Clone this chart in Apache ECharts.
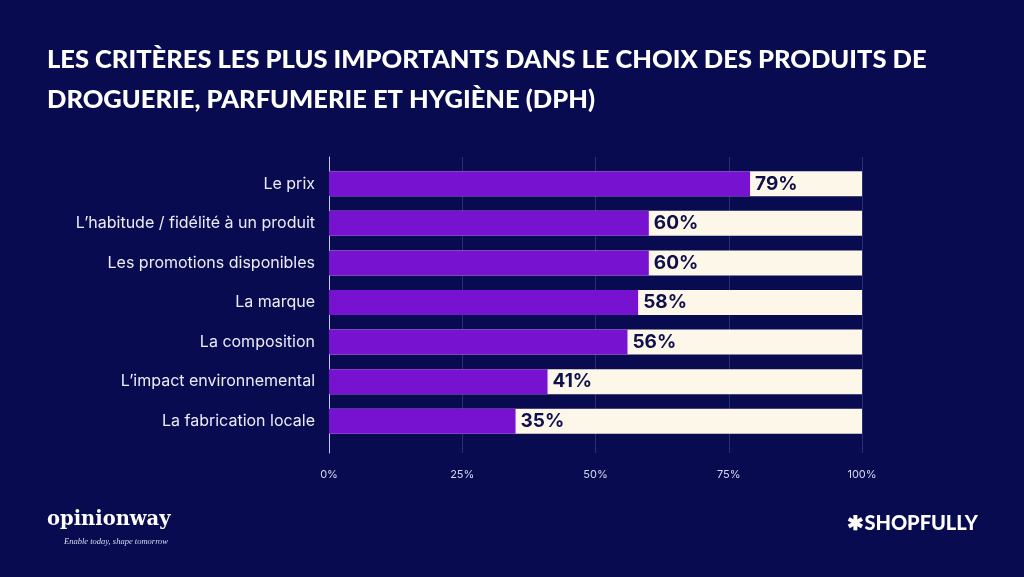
<!DOCTYPE html>
<html><head><meta charset="utf-8">
<script src="https://cdn.jsdelivr.net/npm/echarts@6/dist/echarts.min.js"></script>
<style>html,body{margin:0;padding:0;background:#080B50;}#c{width:1024px;height:577px;}</style>
</head><body><div id="c"></div>
<script>
const categories = ["Le prix","L’habitude / fidélité à un produit","Les promotions disponibles","La marque","La composition","L’impact environnemental","La fabrication locale"];
const values = [79,60,60,58,56,41,35];
const tickLabels = ["0%","25%","50%","75%","100%"];

const chart = echarts.init(document.getElementById('c'));
chart.setOption({
  backgroundColor:'#080B50',
  animation:false,
  title:[{
    text:'LES CRITÈRES LES PLUS IMPORTANTS DANS LE CHOIX DES PRODUITS DE\nDROGUERIE, PARFUMERIE ET HYGIÈNE (DPH)',
    left:42, top:35,
    textStyle:{color:'#FFFFFF', fontFamily:'Lato', fontWeight:900, fontSize:25.5, lineHeight:40}
  },{
    text:'opinionway', left:42, top:505,
    textStyle:{color:'#FFFFFF', fontFamily:'DejaVu Serif', fontWeight:'bold', fontSize:19.5}
  },{
    text:'Enable today, shape tomorrow', left:59, top:532,
    textStyle:{color:'#D8DAF0', fontFamily:'Liberation Serif', fontStyle:'italic', fontWeight:'normal', fontSize:8.5}
  },{
    text:'✱SHOPFULLY', right:41, top:509,
    textStyle:{color:'#FFFFFF', fontFamily:'Lato', fontWeight:900, fontSize:20}
  }],
  grid:[
    {left:329, right:162, top:157, bottom:124},
    {left:329, right:162, top:164, bottom:136}
  ],
  xAxis:[{
    gridIndex:0, type:'value', min:0, max:100, interval:25,
    axisLine:{show:false}, axisTick:{show:false},
    splitLine:{show:true, lineStyle:{color:'#2B2F74', width:1}},
    axisLabel:{color:'#D8DAF0', fontSize:11, fontFamily:'Inter', margin:16,
      formatter:(v)=>tickLabels[v/25]}
  },{
    gridIndex:1, type:'value', min:0, max:100, show:false
  }],
  yAxis:[{
    gridIndex:0, type:'value', min:0, max:1, show:true,
    axisLine:{show:true, lineStyle:{color:'#C8CBE6', width:1}},
    axisTick:{show:false}, axisLabel:{show:false}, splitLine:{show:false}
  },{
    gridIndex:1, type:'category', data:categories, inverse:true,
    axisLine:{show:false}, axisTick:{show:false},
    axisLabel:{color:'#ECECF8', fontSize:16, fontFamily:'Inter', margin:14}
  }],
  series:[{
    type:'bar', xAxisIndex:1, yAxisIndex:1, data:values, barWidth:25,
    itemStyle:{color:'#7612D0'},
    showBackground:true,
    backgroundStyle:{color:'#FDF7EA'},
    label:{show:true, position:'right', distance:5, formatter:'{c}%',
      color:'#0E0F4C', fontFamily:'Inter', fontWeight:700, fontSize:19}
  }]
});
</script></body></html>
